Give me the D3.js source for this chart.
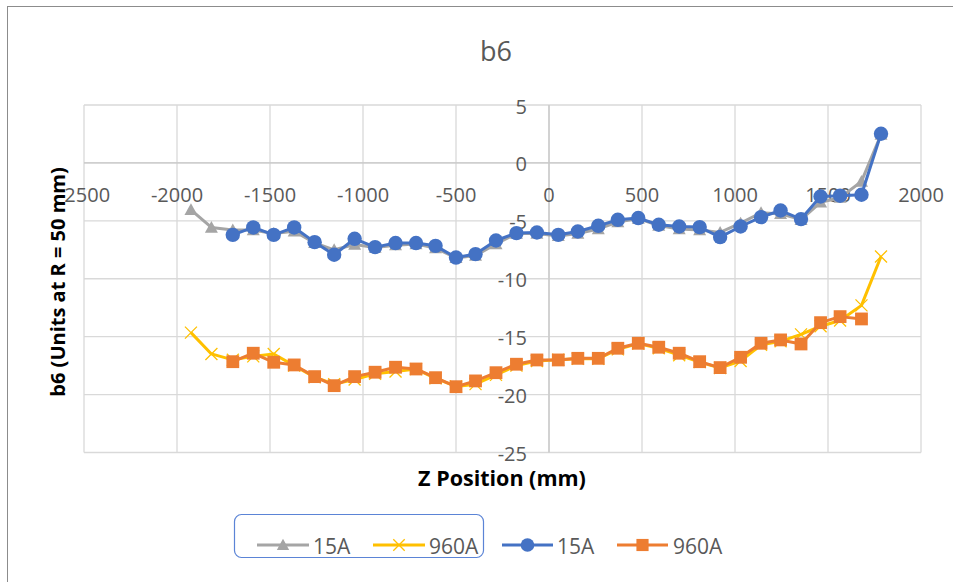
<!DOCTYPE html>
<html>
<head>
<meta charset="utf-8">
<script src="https://cdn.jsdelivr.net/npm/d3@7"></script>
<style>
  html, body { margin: 0; padding: 0; background: #fff; }
  svg { display: block; }
  text { font-family: "Open Sans", "Noto Sans", sans-serif; fill: #595959; }
</style>
</head>
<body>
<svg id="chart" width="953" height="582"></svg>
<script>
// Z positions (mm) for the long runs and the shorter runs
const zLong = [-1925, -1815, -1700, -1590, -1480, -1370, -1260, -1155, -1045, -935, -825, -715, -610, -500, -395, -285, -175, -65, 50, 155, 265, 370, 480, 590, 700, 810, 920, 1030, 1140, 1245, 1355, 1460, 1565, 1680, 1785];
const zShort = [-1700, -1590, -1480, -1370, -1260, -1155, -1045, -935, -825, -715, -610, -500, -395, -285, -175, -65, 50, 155, 265, 370, 480, 590, 700, 810, 920, 1030, 1140, 1245, 1355, 1460, 1565, 1680, 1785];

// b6 values (units at R = 50 mm)
const grayA15 = [-4.05, -5.57, -5.8, -5.8, -6.1, -5.9, -6.9, -7.5, -7.05, -7.3, -7.1, -7.0, -7.35, -8.2, -8.0, -7.0, -6.1, -6.1, -6.3, -6.1, -5.7, -5.1, -4.8, -5.4, -5.7, -5.8, -6.0, -5.2, -4.3, -4.4, -4.9, -3.4, -3.0, -1.6, 2.45];
const yellowA960 = [-14.65, -16.49, -17.0, -16.7, -16.5, -17.5, -18.5, -19.1, -18.7, -18.2, -18.0, -17.8, -18.6, -19.3, -19.1, -18.3, -17.5, -17.1, -17.0, -16.9, -16.9, -16.1, -15.6, -16.0, -16.6, -17.2, -17.7, -17.1, -15.7, -15.4, -14.8, -14.1, -13.6, -12.3, -8.08];
const blueA15 = [-6.21, -5.57, -6.21, -5.57, -6.84, -7.93, -6.55, -7.27, -6.92, -6.92, -7.16, -8.17, -7.87, -6.70, -6.06, -6.01, -6.21, -5.92, -5.43, -4.91, -4.76, -5.34, -5.49, -5.54, -6.40, -5.49, -4.68, -4.11, -4.85, -2.90, -2.83, -2.75, 2.52];
const orangeA960 = [-17.16, -16.43, -17.21, -17.44, -18.45, -19.23, -18.45, -18.07, -17.64, -17.79, -18.54, -19.32, -18.82, -18.11, -17.38, -17.01, -17.01, -16.87, -16.87, -16.0, -15.57, -15.91, -16.43, -17.16, -17.67, -16.78, -15.57, -15.28, -15.63, -13.79, -13.27, -13.47];

const xTicks = [-2500, -2000, -1500, -1000, -500, 0, 500, 1000, 1500, 2000];
const yTicks = [5, 0, -5, -10, -15, -20, -25];

const seriesNames = ["15A", "960A", "15A", "960A"];
const seriesColors = ["#A5A5A5", "#FFC000", "#4472C4", "#ED7D31"];
const seriesMarkers = ["triangle", "cross", "circle", "square"];

const series = [
  { name: seriesNames[0], color: seriesColors[0], marker: seriesMarkers[0], pts: zLong.map((z, i) => [z, grayA15[i]]) },
  { name: seriesNames[1], color: seriesColors[1], marker: seriesMarkers[1], pts: zLong.map((z, i) => [z, yellowA960[i]]) },
  { name: seriesNames[2], color: seriesColors[2], marker: seriesMarkers[2], pts: zShort.map((z, i) => [z, blueA15[i]]) },
  { name: seriesNames[3], color: seriesColors[3], marker: seriesMarkers[3], pts: orangeA960.map((v, i) => [zShort[i], v]) }
];

const svg = d3.select("#chart");
const plot = { left: 84, right: 921, top: 105, bottom: 452.5 };

const x = d3.scaleLinear().domain([-2500, 2000]).range([plot.left, plot.right]);
const y = d3.scaleLinear().domain([-25, 5]).range([plot.bottom, plot.top]);

// chart area frame
svg.append("rect")
  .attr("x", 7.5).attr("y", 6.5).attr("width", 980).attr("height", 620)
  .attr("fill", "#fff").attr("stroke", "#8c8c8c").attr("stroke-width", 1);

// gridlines
const grid = svg.append("g");
grid.selectAll("line.h").data(yTicks).join("line")
  .attr("x1", plot.left).attr("x2", plot.right)
  .attr("y1", d => y(d)).attr("y2", d => y(d))
  .attr("stroke", "#d9d9d9").attr("stroke-width", 1.3);
grid.selectAll("line.v").data(xTicks).join("line")
  .attr("y1", plot.top).attr("y2", plot.bottom)
  .attr("x1", d => x(d)).attr("x2", d => x(d))
  .attr("stroke", "#d9d9d9").attr("stroke-width", 1.3);

// axis lines crossing at the origin
svg.append("line").attr("x1", plot.left).attr("x2", plot.right)
  .attr("y1", y(0)).attr("y2", y(0)).attr("stroke", "#c8c8c8").attr("stroke-width", 1.3);
svg.append("line").attr("y1", plot.top).attr("y2", plot.bottom)
  .attr("x1", x(0)).attr("x2", x(0)).attr("stroke", "#c8c8c8").attr("stroke-width", 1.3);

// tick labels
svg.append("g").selectAll("text").data(xTicks).join("text")
  .attr("x", d => x(d)).attr("y", y(0) + 32)
  .attr("text-anchor", "middle").attr("dominant-baseline", "central")
  .attr("font-size", 20).text(d => d);
svg.append("g").selectAll("text").data(yTicks).join("text")
  .attr("x", x(0) - 22).attr("y", d => y(d) + 1)
  .attr("text-anchor", "end").attr("dominant-baseline", "central")
  .attr("font-size", 20).text(d => d);

// titles
svg.append("text").attr("x", 496).attr("y", 50)
  .attr("text-anchor", "middle").attr("dominant-baseline", "central")
  .attr("font-size", 27).text("b6");
svg.append("text").attr("x", 502).attr("y", 477)
  .attr("text-anchor", "middle").attr("dominant-baseline", "central")
  .attr("font-size", 21.5).attr("font-weight", "bold")
  .style("fill", "#000").text("Z Position (mm)");
svg.append("text")
  .attr("transform", "translate(57,282) rotate(-90)")
  .attr("text-anchor", "middle").attr("dominant-baseline", "central")
  .attr("font-size", 20).attr("font-weight", "bold")
  .style("fill", "#000").text("b6 (Units at R = 50 mm)");

// marker drawing
function drawMarker(g, type, color, cx, cy, scale) {
  const s = scale || 1;
  if (type === "circle") {
    g.append("circle").attr("cx", cx).attr("cy", cy).attr("r", 7.2 * s).attr("fill", color);
  } else if (type === "square") {
    const h = 6.4 * s;
    g.append("rect").attr("x", cx - h).attr("y", cy - h).attr("width", 2 * h).attr("height", 2 * h).attr("fill", color);
  } else if (type === "triangle") {
    const h = 6.5 * s;
    g.append("path")
      .attr("d", `M${cx},${cy - h}L${cx + h},${cy + h * 0.8}L${cx - h},${cy + h * 0.8}Z`)
      .attr("fill", color);
  } else if (type === "cross") {
    const h = 6 * s;
    g.append("path")
      .attr("d", `M${cx - h},${cy - h}L${cx + h},${cy + h}M${cx + h},${cy - h}L${cx - h},${cy + h}`)
      .attr("stroke", color).attr("stroke-width", 1.3).attr("fill", "none");
  }
}

// series lines and markers
const line = d3.line().x(d => x(d[0])).y(d => y(d[1]));
series.forEach(s => {
  const g = svg.append("g");
  g.append("path").datum(s.pts).attr("d", line)
    .attr("fill", "none").attr("stroke", s.color).attr("stroke-width", 3)
    .attr("stroke-linejoin", "round");
  s.pts.forEach(p => drawMarker(g, s.marker, s.color, x(p[0]), y(p[1])));
});

// legend
const legendY = 545;
const legendItems = [
  { x1: 257, x2: 309, tx: 313 },
  { x1: 373, x2: 425, tx: 429 },
  { x1: 502, x2: 553, tx: 557 },
  { x1: 617, x2: 668, tx: 673 }
];
const lg = svg.append("g");
lg.append("rect").attr("x", 234.5).attr("y", 514.5).attr("width", 249).attr("height", 43)
  .attr("rx", 7).attr("fill", "none").attr("stroke", "#5b84d6").attr("stroke-width", 1.2);
series.forEach((s, i) => {
  const it = legendItems[i];
  lg.append("line").attr("x1", it.x1).attr("x2", it.x2).attr("y1", legendY).attr("y2", legendY)
    .attr("stroke", s.color).attr("stroke-width", 3);
  drawMarker(lg, s.marker, s.color, (it.x1 + it.x2) / 2, legendY, 0.95);
  lg.append("text").attr("x", it.tx).attr("y", legendY + 1)
    .attr("dominant-baseline", "central").attr("font-size", 21).text(s.name);
});
</script>
</body>
</html>
